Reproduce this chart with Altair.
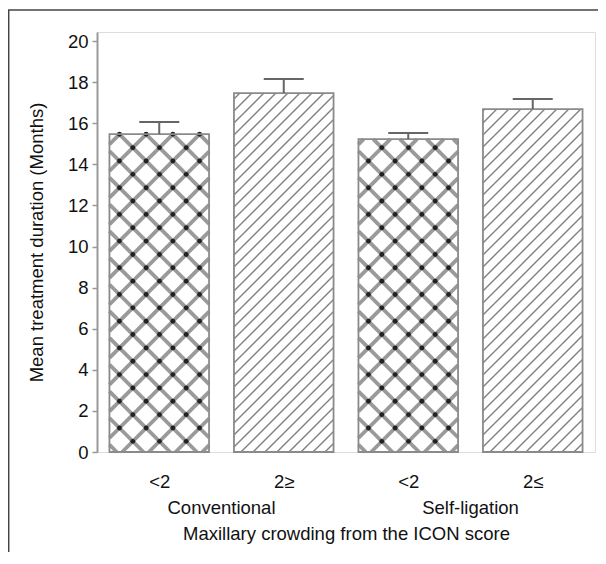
import altair as alt
import numpy as np
import pandas as pd

# ---- data ----
crowding = ["<2", "2≥", "<2", "2≤"]
groups = ["Conventional", "Self-ligation"]
means = [15.47, 17.47, 15.23, 16.69]
errors = [0.59, 0.68, 0.29, 0.49]
patterns = ["cross", "stripe", "cross", "stripe"]
y_ticks = [0, 2, 4, 6, 8, 10, 12, 14, 16, 18, 20]

# ---- layout ----
W, H = 498, 420
YMAX = 20.44
PXX = W / 4.0
PXY = H / YMAX
FONT = "Liberation Sans"
FS = 18.5

bars = pd.DataFrame({
    "i": range(4),
    "x0": [i + 0.1 for i in range(4)],
    "x1": [i + 0.9 for i in range(4)],
    "xc": [i + 0.5 for i in range(4)],
    "capl": [i + 0.5 - 20 / PXX for i in range(4)],
    "capr": [i + 0.5 + 20 / PXX for i in range(4)],
    "mean": means,
    "upper": [m + e for m, e in zip(means, errors)],
    "lab": crowding,
})

# ---- hatch geometry derived from bars ----
seg_rows, dot_rows = [], []
for i, (m, p) in enumerate(zip(means, patterns)):
    w = 0.8 * PXX
    h = m * PXY
    x0 = i + 0.1

    def add(t1, y1, t2, y2, kind):
        seg_rows.append({"xa": x0 + t1 / PXX, "ya": y1 / PXY,
                         "xb": x0 + t2 / PXX, "yb": y2 / PXY, "kind": kind})

    if p == "cross":
        d = 26.7
        ups = [14 + d * k for k in range(-40, 40)]
        downs = [34 + d * k for k in range(-40, 40)]
        for c in ups:  # y = t + c
            lo, hi = max(0, -c), min(w, h - c)
            if hi > lo:
                add(lo, lo + c, hi, hi + c, "cross")
        for c in downs:  # y = -t + c
            lo, hi = max(0, c - h), min(w, c)
            if hi > lo:
                add(lo, c - lo, hi, c - hi, "cross")
        for c1 in ups:
            for c2 in downs:
                t = (c2 - c1) / 2
                y = (c1 + c2) / 2
                if 0 <= t <= w and 0 <= y <= h:
                    dot_rows.append({"xd": x0 + t / PXX, "yd": y / PXY})
    else:
        d = 12.0
        for k in range(-60, 60):
            c = 5 + d * k
            lo, hi = max(0, -c), min(w, h - c)
            if hi > lo:
                add(lo, lo + c, hi, hi + c, "stripe")

segs = pd.DataFrame(seg_rows)
dots = pd.DataFrame(dot_rows)

xscale = alt.Scale(domain=[0, 4], nice=False, zero=False)
yscale = alt.Scale(domain=[0, YMAX], nice=False, zero=True)

label_expr = "[" + ",".join("'" + s + "'" for s in crowding) + "][floor(datum.value)]"

base_bars = alt.Chart(bars)

fill_layer = base_bars.mark_rect(fill="white", stroke=None).encode(
    x=alt.X("x0:Q", scale=xscale,
            axis=alt.Axis(values=[0.5, 1.5, 2.5, 3.5], labelExpr=label_expr,
                          title="Maxillary crowding from the ICON score",
                          ticks=False, domain=False, grid=False,
                          labelPadding=20, labelFontSize=FS, labelFont=FONT,
                          labelColor="#111", titleFontSize=FS, titleFont=FONT,
                          titleFontWeight="normal", titleColor="#111",
                          titlePadding=34)),
    x2="x1:Q",
    y=alt.Y("mean:Q", scale=yscale,
            axis=alt.Axis(values=y_ticks, title="Mean treatment duration (Months)",
                          grid=False, domainColor="#999", domainWidth=2,
                          tickColor="#999", tickSize=5, tickWidth=1.5,
                          labelPadding=4, labelFontSize=FS, labelFont=FONT,
                          labelColor="#111", titleFontSize=FS, titleFont=FONT,
                          titleFontWeight="normal", titleColor="#111",
                          titlePadding=21)),
    y2=alt.datum(0),
)

cross_lines = alt.Chart(segs).transform_filter("datum.kind == 'cross'").mark_rule(
    color="#9a9a9a", strokeWidth=3.8).encode(
    x=alt.X("xa:Q", scale=xscale), x2="xb:Q",
    y=alt.Y("ya:Q", scale=yscale), y2="yb:Q")

stripe_lines = alt.Chart(segs).transform_filter("datum.kind == 'stripe'").mark_rule(
    color="#808080", strokeWidth=1.4).encode(
    x=alt.X("xa:Q", scale=xscale), x2="xb:Q",
    y=alt.Y("ya:Q", scale=yscale), y2="yb:Q")

dot_layer = alt.Chart(dots).mark_point(filled=True, color="#222", size=24, opacity=1).encode(
    x=alt.X("xd:Q", scale=xscale),
    y=alt.Y("yd:Q", scale=yscale))

outline = base_bars.mark_rect(fill=None, stroke="#8a8a8a", strokeWidth=1.8).encode(
    x=alt.X("x0:Q", scale=xscale), x2="x1:Q",
    y=alt.Y("mean:Q", scale=yscale), y2=alt.datum(0))

err_stem = base_bars.mark_rule(color="#666", strokeWidth=2).encode(
    x=alt.X("xc:Q", scale=xscale),
    y=alt.Y("mean:Q", scale=yscale), y2="upper:Q")

err_cap = base_bars.mark_rule(color="#666", strokeWidth=2).encode(
    x=alt.X("capl:Q", scale=xscale), x2="capr:Q",
    y=alt.Y("upper:Q", scale=yscale))

grp = pd.DataFrame({"g": groups, "gx": [1.0, 3.0]})
group_text = alt.Chart(grp).mark_text(fontSize=FS, font=FONT, color="#111",
                                      baseline="middle", align="center").encode(
    x=alt.X("gx:Q", scale=xscale),
    y=alt.value(H + 56),
    text="g:N")

frame_df = pd.DataFrame({"k": [0]})
frame_top = alt.Chart(frame_df).mark_rule(color="#444", strokeWidth=1.5).encode(
    x=alt.value(-89), x2=alt.value(W + 20), y=alt.value(-22))
frame_left = alt.Chart(frame_df).mark_rule(color="#444", strokeWidth=1.5).encode(
    x=alt.value(-88.3), y=alt.value(-22), y2=alt.value(H + 200))

chart = alt.layer(
    fill_layer, cross_lines, stripe_lines, dot_layer, outline,
    err_stem, err_cap, group_text, frame_top, frame_left
).properties(
    width=W, height=H,
    autosize=alt.AutoSizeParams(type="none"),
    padding={"left": 89, "top": 24, "right": 3, "bottom": 100},
).configure_view(
    stroke="#999", strokeWidth=1.5
).configure(background="white")

chart.save("out.html", embed_options={"renderer": "svg", "actions": False})
